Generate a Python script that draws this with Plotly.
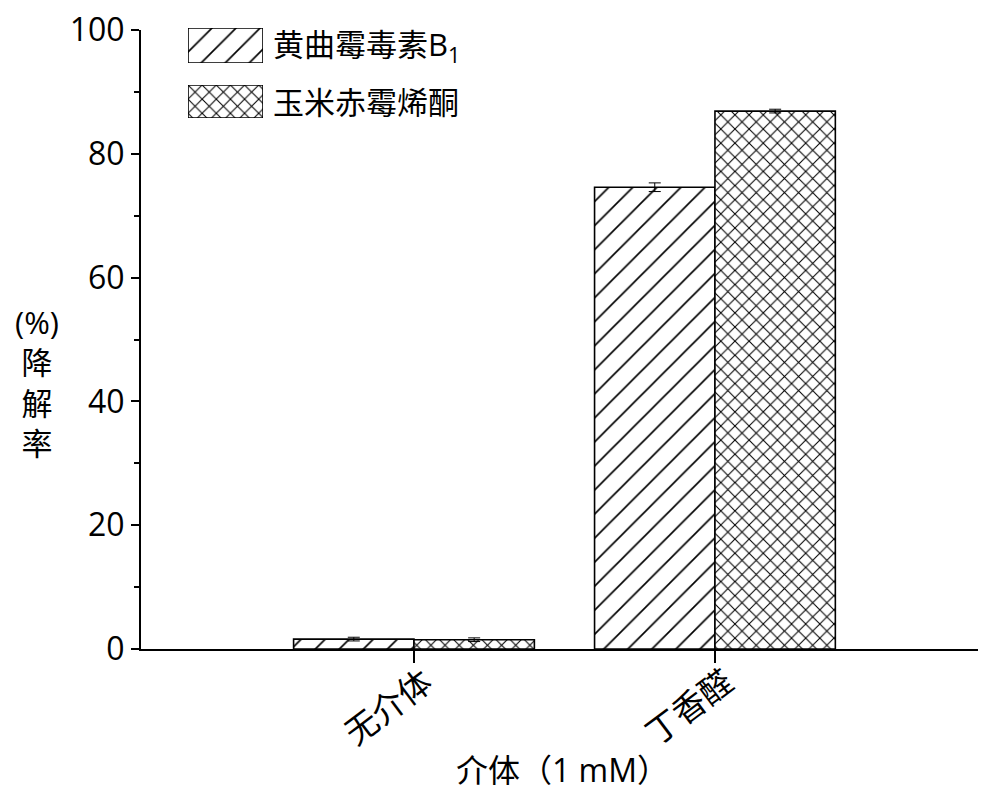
import plotly.graph_objects as go

categories = ["无介体", "丁香醛"]
series_names = ["黄曲霉毒素B<sub>1</sub>", "玉米赤霉烯酮"]
afb1_values = [1.6, 74.6]
afb1_errors = [0.3, 0.7]
zen_values = [1.5, 86.9]
zen_errors = [0.3, 0.3]
y_ticks = [0, 20, 40, 60, 80, 100]

FONT = "Open Sans, Noto Sans CJK SC, sans-serif"
W, H = 1000, 797
L, R, T, B = 141, 22, 20, 148
plot_w = W - L - R
plot_h = H - T - B
y_top_frac = (H - B - 30) / plot_h

patterns = [dict(shape="/", size=17, solidity=0.1, fgcolor="black", bgcolor="white", fillmode="replace"),
            dict(shape="x", size=10, solidity=0.2, fgcolor="black", bgcolor="white", fillmode="replace")]

fig = go.Figure()
for name, vals, errs, pat in [(series_names[0], afb1_values, afb1_errors, patterns[0]),
                              (series_names[1], zen_values, zen_errors, patterns[1])]:
    fig.add_trace(go.Bar(
        x=categories, y=vals, name=name, showlegend=False,
        marker=dict(color="white", line=dict(color="black", width=1.6), pattern=pat),
        error_y=dict(type="data", array=errs, color="black", thickness=1, width=6),
    ))

def px_to_paper_y(py):
    return (H - B - py) / plot_h

def px_to_paper_x(px):
    return (px - L) / plot_w

# custom legend swatches (large patterned boxes)
sw_rows = [(28, 63), (85, 118)]
for i, ((top, bot), pat, name) in enumerate(zip(sw_rows, patterns, series_names)):
    ya = "y%d" % (i + 2)
    fig.add_trace(go.Bar(
        x=[0], y=[1], xaxis="x2", yaxis=ya, width=[1], showlegend=False, hoverinfo="skip",
        marker=dict(color="white", line=dict(color="black", width=1.6), pattern=pat),
    ))
    fig.add_annotation(
        xref="paper", yref="paper", x=px_to_paper_x(271),
        y=px_to_paper_y((top + bot) / 2), xanchor="left", yanchor="middle",
        text=name, showarrow=False, font=dict(family=FONT, size=31, color="black"),
    )
    fig.update_layout(**{
        "yaxis%d" % (i + 2): dict(domain=[px_to_paper_y(bot), px_to_paper_y(top)], range=[0, 1],
                                  visible=False, fixedrange=True, anchor="x2")
    })

fig.update_layout(
    xaxis2=dict(domain=[px_to_paper_x(188), px_to_paper_x(263)], range=[-0.5, 0.5],
                visible=False, anchor="y2"),
)

fig.update_layout(
    width=W, height=H,
    margin=dict(l=L, r=R, t=T, b=B),
    paper_bgcolor="white", plot_bgcolor="white",
    barmode="group", bargap=0.2, bargroupgap=0,
    font=dict(family=FONT, size=30, color="black"),
    xaxis=dict(
        range=[-0.907, 1.874], showline=True, linecolor="black", linewidth=2,
        ticks="outside", ticklen=12, tickwidth=2, tickcolor="black",
        showticklabels=False, showgrid=False, zeroline=False,
        automargin=False,
    ),
    yaxis=dict(
        domain=[0, y_top_frac], range=[0, 100], showline=True, linecolor="black", linewidth=2,
        ticks="outside", ticklen=8, tickwidth=2, tickcolor="black",
        tickvals=y_ticks, tickfont=dict(size=32), showgrid=False, zeroline=False,
        automargin=False,
        minor=dict(ticks="outside", ticklen=5, tickwidth=2, tickcolor="black", dtick=10, showgrid=False),
    ),
    showlegend=False,
)

# rotated category labels, placed at each category tick
for cat in categories:
    fig.add_annotation(
        xref="x", yref="paper", x=cat, y=px_to_paper_y(706), xshift=-26,
        xanchor="center", yanchor="middle", showarrow=False, textangle=-37,
        text=cat, font=dict(family=FONT, size=33, color="black"),
    )

# x-axis title
fig.add_annotation(
    xref="paper", yref="paper", x=px_to_paper_x(562), y=px_to_paper_y(769),
    xanchor="center", yanchor="middle", showarrow=False,
    text="介体（1 mM）", font=dict(family=FONT, size=32, color="black"),
)

# y-axis title (stacked characters)
fig.add_annotation(
    xref="paper", yref="paper", x=px_to_paper_x(37), y=px_to_paper_y(382),
    xanchor="center", yanchor="middle", showarrow=False,
    text="(%)<br>降<br>解<br>率", align="center",
    font=dict(family=FONT, size=31, color="black"),
)

fig.write_html("out.html")
